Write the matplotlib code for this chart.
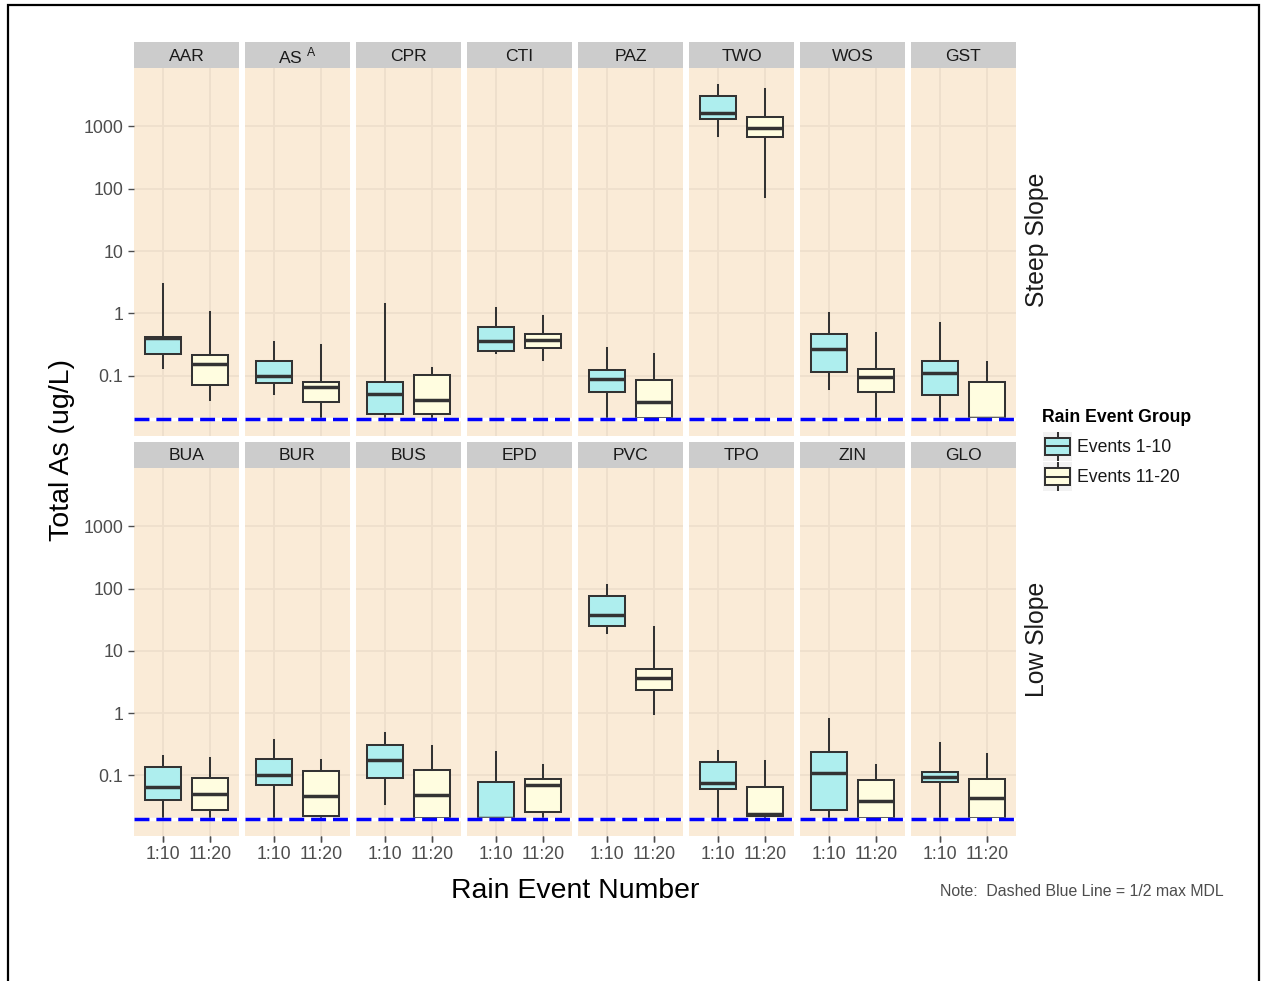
import numpy as np
import matplotlib.pyplot as plt
from matplotlib.patches import Rectangle
from matplotlib.ticker import NullLocator

plt.rcParams['font.family'] = ['Liberation Sans', 'DejaVu Sans']
plt.rcParams['mathtext.fontset'] = 'custom'
plt.rcParams['mathtext.rm'] = 'Liberation Sans'

W, H = 1261, 981

steep_sites = ['AAR', r'AS $^{\mathrm{A}}$', 'CPR', 'CTI', 'PAZ', 'TWO', 'WOS', 'GST']
low_sites = ['BUA', 'BUR', 'BUS', 'EPD', 'PVC', 'TPO', 'ZIN', 'GLO']
row_names = ['Steep Slope', 'Low Slope']
groups = ['Events 1-10', 'Events 11-20']
event_ticks = ['1:10', '11:20']
half_mdl = 0.02

# (whisker low, Q1, median, Q3, whisker high) in ug/L
steep_1_10 = [(0.13, 0.22, 0.40, 0.42, 2.95),
              (0.050, 0.077, 0.099, 0.173, 0.35),
              (0.021, 0.024, 0.050, 0.080, 1.39),
              (0.227, 0.25, 0.36, 0.61, 1.2),
              (0.021, 0.055, 0.087, 0.123, 0.28),
              (703, 1340, 1630, 3090, 4640),
              (0.061, 0.115, 0.263, 0.46, 1.0),
              (0.021, 0.049, 0.108, 0.173, 0.69)]
steep_11_20 = [(0.040, 0.070, 0.153, 0.21, 1.06),
               (0.021, 0.037, 0.065, 0.079, 0.31),
               (0.021, 0.024, 0.040, 0.102, 0.13),
               (0.18, 0.28, 0.37, 0.46, 0.90),
               (0.021, 0.021, 0.038, 0.085, 0.22),
               (74.6, 686, 935, 1400, 4000),
               (0.021, 0.055, 0.093, 0.126, 0.49),
               (0.021, 0.021, 0.021, 0.079, 0.163)]
low_1_10 = [(0.021, 0.040, 0.065, 0.134, 0.206),
            (0.021, 0.070, 0.100, 0.182, 0.367),
            (0.035, 0.092, 0.175, 0.31, 0.475),
            (0.021, 0.021, 0.021, 0.077, 0.239),
            (19.4, 25.3, 37.9, 76.5, 113),
            (0.021, 0.060, 0.075, 0.161, 0.244),
            (0.021, 0.0275, 0.107, 0.239, 0.80),
            (0.021, 0.0786, 0.095, 0.115, 0.33)]
low_11_20 = [(0.021, 0.028, 0.050, 0.090, 0.193),
             (0.021, 0.0224, 0.046, 0.118, 0.175),
             (0.021, 0.021, 0.049, 0.122, 0.30),
             (0.021, 0.026, 0.070, 0.087, 0.148),
             (0.96, 2.36, 3.64, 5.07, 24.5),
             (0.021, 0.0224, 0.0243, 0.066, 0.167),
             (0.021, 0.021, 0.038, 0.084, 0.148),
             (0.021, 0.021, 0.044, 0.087, 0.219)]

fills = ['#AEEEEE', '#FFFDE0']
edge = '#333333'
panel_bg = '#FAEBD7'
grid_col = '#EEDFCC'


def px_axes(x0, y0, w, h):
    return fig.add_axes([x0 / W, 1 - (y0 + h) / H, w / W, h / H])


fig = plt.figure(figsize=(W / 100, H / 100), dpi=100)

rows = [(steep_sites, steep_1_10, steep_11_20, 42.0, 67.7),
        (low_sites, low_1_10, low_11_20, 441.7, 467.5)]
panel_h = 368
col_w = 105

for r, (sites, early, late, strip_top, panel_top) in enumerate(rows):
    for i, site in enumerate(sites):
        x0 = 134 + 111 * i

        # strip label
        sax = px_axes(x0, strip_top, col_w, panel_top - strip_top)
        sax.set_facecolor('#CCCCCC')
        sax.set_xticks([])
        sax.set_yticks([])
        for s in sax.spines.values():
            s.set_visible(False)
        sax.text(0.5, 0.45, site, ha='center', va='center', fontsize=12.6,
                 color='#1A1A1A', transform=sax.transAxes)

        ax = px_axes(x0, panel_top, col_w, panel_h)
        ax.set_facecolor(panel_bg)
        for s in ax.spines.values():
            s.set_visible(False)
        ax.set_yscale('log')
        ax.set_xlim(0.4, 2.6)
        ax.set_ylim(0.0108, 8800)
        ax.set_axisbelow(True)
        ax.yaxis.set_minor_locator(NullLocator())
        ax.set_yticks([0.1, 1, 10, 100, 1000])
        ax.set_yticklabels(['0.1', '1', '10', '100', '1000'])
        ax.set_xticks([1, 2])
        ax.set_xticklabels(event_ticks)
        ax.grid(True, color=grid_col, lw=1.3)

        stats = []
        for k, vals in enumerate([early[i], late[i]]):
            lo, q1, med, q3, hi = vals
            stats.append(dict(whislo=lo, q1=q1, med=med, q3=q3, whishi=hi,
                              label=event_ticks[k]))
        bp = ax.bxp(stats, positions=[1, 2], widths=0.75, patch_artist=True,
                    showfliers=False, showcaps=False,
                    boxprops=dict(edgecolor=edge, linewidth=1.45),
                    whiskerprops=dict(color=edge, linewidth=1.45),
                    medianprops=dict(color=edge, linewidth=2.5,
                                     solid_capstyle='butt'))
        for patch, fc in zip(bp['boxes'], fills):
            patch.set_facecolor(fc)

        # half of the max MDL, dashed over a white underlay
        ax.axhline(half_mdl, color='white', lw=2.5, zorder=5.5)
        ax.axhline(half_mdl, color='#0000FF', lw=2.5,
                   ls=(0, (4.3, 2.0)), zorder=6)

        ax.tick_params(axis='both', length=4.3, width=1.0, color='#4D4D4D',
                       labelsize=12.8, labelcolor='#4D4D4D')
        ax.tick_params(axis='y', pad=3.5)
        ax.tick_params(axis='x', pad=3)
        if i != 0:
            ax.tick_params(axis='y', left=False, labelleft=False)
        if r == 0:
            ax.tick_params(axis='x', bottom=False, labelbottom=False)

    fig.text(1037 / W, 1 - (240 + 399.5 * r) / H, row_names[r], rotation=90,
             ha='center', va='center', fontsize=17.8, color='#1A1A1A')

# axis titles
fig.text(62 / W, 1 - 450 / H, 'Total As (ug/L)', rotation=90, ha='center',
         va='center', fontsize=20.5)
fig.text(575.5 / W, 1 - 891 / H, 'Rain Event Number', ha='center',
         va='center', fontsize=20.4)
fig.text(1224 / W, 1 - 892 / H, 'Note:  Dashed Blue Line = 1/2 max MDL',
         ha='right', va='center', fontsize=11.4, color='#4D4D4D')

# legend
fig.text(1042 / W, 1 - 418 / H, 'Rain Event Group', ha='left', va='center',
         fontsize=12.7, fontweight='bold')
for k, (lab, fc) in enumerate(zip(groups, fills)):
    ky = 432 + 30 * k
    kax = px_axes(1043, ky, 29, 29)
    kax.set_facecolor('#F2F2F2')
    kax.set_xlim(0, 1)
    kax.set_ylim(0, 1)
    kax.set_xticks([])
    kax.set_yticks([])
    for s in kax.spines.values():
        s.set_visible(False)
    kax.plot([0.5, 0.5], [0.0, 0.2], color=edge, lw=1.45)
    kax.plot([0.5, 0.5], [0.8, 1.0], color=edge, lw=1.45)
    kax.add_patch(Rectangle((0.08, 0.2), 0.84, 0.6, facecolor=fc,
                            edgecolor=edge, lw=1.45))
    kax.plot([0.08, 0.92], [0.5, 0.5], color=edge, lw=1.45)
    fig.text(1077 / W, 1 - (ky + 15) / H, lab, ha='left', va='center',
             fontsize=12.7, color='#1A1A1A')

# outer frame
fig.add_artist(Rectangle((7.5 / W, -0.05), (1259 - 7.5) / W,
                         1.05 - 5.5 / H, transform=fig.transFigure,
                         fill=False, edgecolor='black', lw=1.6))

fig.savefig('out.png', dpi=100)
